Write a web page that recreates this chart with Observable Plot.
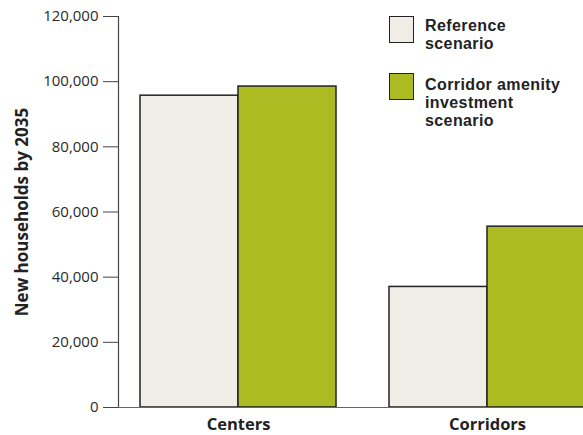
<!DOCTYPE html>
<html>
<head>
<meta charset="utf-8">
<script src="https://cdn.jsdelivr.net/npm/d3@7"></script>
<script src="https://cdn.jsdelivr.net/npm/@observablehq/plot@0.6"></script>
<style>
  html, body { margin: 0; padding: 0; background: #fff; overflow: hidden; }
  #chart { position: relative; width: 583px; height: 435px; overflow: hidden; }
  #chart > svg { max-width: none !important; display: block; }
  .swatch { position: absolute; left: 389px; width: 23px; height: 25px; border: 1.6px solid #222; box-sizing: content-box; }
  .legend-label { position: absolute; left: 425px; font: bold 16px/18.4px 'Liberation Sans', Arial, sans-serif; letter-spacing: 0.4px; color: #222; white-space: nowrap; }
</style>
</head>
<body>
<div id="chart"></div>
<script>
// New households by 2035, by location type and scenario
const groups = ["Centers", "Corridors"];
const scenarios = ["Reference scenario", "Corridor amenity investment scenario"];
const referenceValues = [95700, 37000];
const corridorValues = [98500, 55500];
const yTicks = [0, 20000, 40000, 60000, 80000, 100000, 120000];
const colors = ["#f0ede6", "#adbb22"];

const refData = groups.map((g, i) => ({group: g, value: referenceValues[i]}));
const corData = groups.map((g, i) => ({group: g, value: corridorValues[i]}));

const font = "'Open Sans', 'Noto Sans', sans-serif";

const chart = Plot.plot({
  width: 607,
  height: 435,
  marginLeft: 118,
  marginRight: 0,
  marginTop: 16,
  marginBottom: 28,
  style: {fontFamily: font, fontSize: "15px", color: "#333", background: "#fff", maxWidth: "none"},
  x: {domain: groups, paddingInner: 0.213, paddingOuter: 0.088, label: null},
  y: {domain: [0, 120000], label: null},
  marks: [
    Plot.barY(refData, {x: "group", y: "value", fill: colors[0], stroke: "#222", strokeWidth: 1.5, insetRight: 98}),
    Plot.barY(corData, {x: "group", y: "value", fill: colors[1], stroke: "#222", strokeWidth: 1.5, insetLeft: 98}),
    Plot.frame({anchor: "left", stroke: "#444", strokeWidth: 1.2}),
    Plot.ruleY([0], {stroke: "#666", strokeWidth: 1.2}),
    Plot.axisY({ticks: yTicks, tickFormat: d3.format(","), tickSize: 15, tickPadding: 5, label: null, fontSize: 15, stroke: "#444", fill: "#2a2a2a"}),
    Plot.axisX({tickSize: 0, tickPadding: 11, fontWeight: "bold", fontSize: 16.5, label: null, fill: "#222"}),
    Plot.text(["New households by 2035"], {frameAnchor: "left", textAnchor: "middle", rotate: -90, dx: -96, fontWeight: "bold", fontSize: 17, fill: "#222"})
  ]
});
const container = document.getElementById("chart");
container.appendChild(chart);

// Legend: swatch plus wrapped label for each scenario
const legendLines = [["Reference", "scenario"], ["Corridor amenity", "investment", "scenario"]];
const swatchTop = [16, 73];
const labelTop = [16.5, 75.5];
scenarios.forEach((s, i) => {
  const sw = document.createElement("div");
  sw.className = "swatch";
  sw.style.top = swatchTop[i] + "px";
  sw.style.background = colors[i];
  container.appendChild(sw);
  const lab = document.createElement("div");
  lab.className = "legend-label";
  lab.style.top = labelTop[i] + "px";
  lab.innerHTML = legendLines[i].join("<br>");
  container.appendChild(lab);
});
</script>
</body>
</html>
